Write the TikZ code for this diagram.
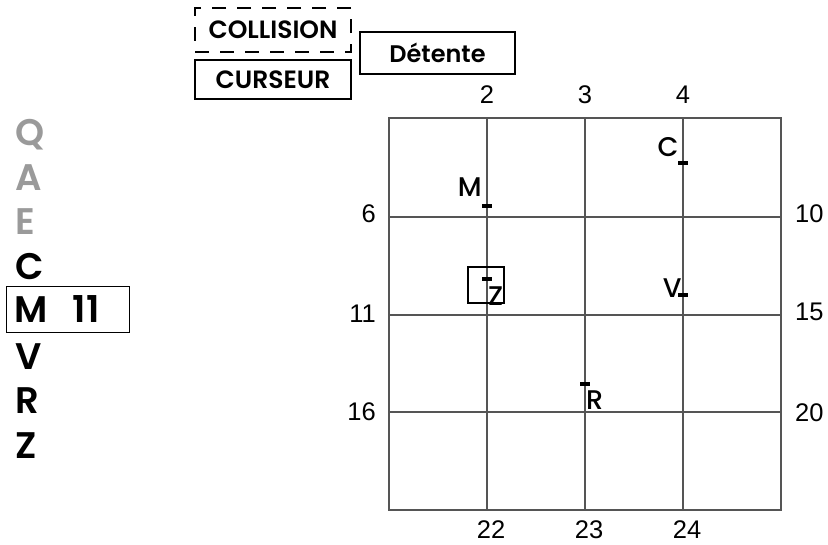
\documentclass[tikz,border=0pt]{standalone}
\usepackage{fontspec}
\setmainfont{Liberation Sans}
\newfontfamily\lblfont{Poppins}[BoldFont={* SemiBold}]
\newfontfamily\midfont{Poppins Medium}
\usetikzlibrary{positioning}
\definecolor{lettergray}{HTML}{9A9A9A}
\definecolor{gridgray}{HTML}{555555}
\tikzset{
  gridline/.style={draw=gridgray, line width=1.2pt},
  numlabel/.style={inner sep=0pt, font=\fontsize{25.5}{29}\selectfont},
  tagbox/.style={
    rectangle, draw=black, line width=1.8pt, inner sep=0pt,
    font=\lblfont\bfseries\fontsize{25}{29}\selectfont,
    minimum width=156pt,
  },
  tagboxDashed/.style={tagbox, dash pattern=on 14pt off 11pt},
  marker/.style={
    rectangle, fill=black, inner sep=0pt,
    minimum width=10pt, minimum height=4pt,
  },
  mlabel/.style={inner sep=0pt, font=\midfont\fontsize{27}{31}\selectfont},
  keyletter/.style={
    inner sep=0pt, anchor=base west,
    font=\lblfont\bfseries\fontsize{37}{41}\selectfont,
  },
  selbox/.style={
    rectangle, draw=black, line width=1.8pt, minimum size=36pt, inner sep=0pt,
  },
}

\begin{document}
\begin{tikzpicture}[x=1pt, y=-1pt]
\useasboundingbox (0,0) rectangle (828,544);

% Mode boxes
\node[tagboxDashed, minimum height=44pt] (collision) at (273,30) {COLLISION};
\node[tagbox, minimum height=39pt] (curseur) at (273,79.5) {CURSEUR};
\node[tagbox, minimum width=155pt, minimum height=42pt,
   font=\lblfont\bfseries\fontsize{24}{28}\selectfont] (detente)
   at (437.5,53) {Détente};

% Key letters
\foreach \c/\col [count=\i from 0] in {Q/lettergray,A/lettergray,E/lettergray,C/black}
  \node[keyletter, text=\col] (key\c) at (15,{145.5+44.7*\i}) {\c};
\node[keyletter, draw, line width=1pt, anchor=west, minimum width=123pt,
   minimum height=46pt, text width=107pt, align=left, inner xsep=8pt]
   (keyM) at (6,309) {M\hspace{25pt}11};
\foreach \c [count=\i from 5] in {V,R,Z}
  \node[keyletter] (key\c) at (15,{145.5+44.7*\i}) {\c};

% Grid
\draw[gridline] (389,118) rectangle (781,510);
\foreach \x in {487,585,683}
  \draw[gridline] (\x,118) -- (\x,510);
\foreach \y in {217,315,412}
  \draw[gridline] (389,\y) -- (781,\y);

% Grid numbers
\foreach \x/\t in {487/2,585/3,683/4}
  \node[numlabel] (top\t) at (\x,95) {\t};
\foreach \x/\t in {491/22,589/23,687/24}
  \node[numlabel] (bot\t) at (\x,529.5) {\t};
\foreach \y/\t in {214/6,314/11,412/16}
  \node[numlabel, anchor=east] (left\t) at (376,\y) {\t};
\foreach \y/\t in {214/10,312/15,413/20}
  \node[numlabel, anchor=west] (right\t) at (795,\y) {\t};

% Markers
\node[marker] (mM) at (487,206) {};
\node[marker] (mZ) at (487,279) {};
\node[marker] (mC) at (683,163) {};
\node[marker] (mV) at (683,295) {};
\node[marker] (mR) at (585,383.5) {};

\node[mlabel, anchor=base east] (lM) at ([xshift=0pt,yshift=7pt]mM.north west) {M};
\node[mlabel, anchor=base east] (lC) at ([xshift=1pt,yshift=4pt]mC.north west) {C};
\node[mlabel, anchor=base east] (lV) at ([xshift=4pt]mV.south west) {V};
\node[mlabel, anchor=base west] (lR) at ([xshift=1pt,yshift=-24pt]mR.south) {R};
\node[mlabel, anchor=base west] (lZ) at ([xshift=1pt,yshift=-24pt]mZ.south) {Z};

% Selection frame
\node[selbox] (sel) at ([xshift=-1pt,yshift=-6pt]mZ.center) {};

\end{tikzpicture}
\end{document}
